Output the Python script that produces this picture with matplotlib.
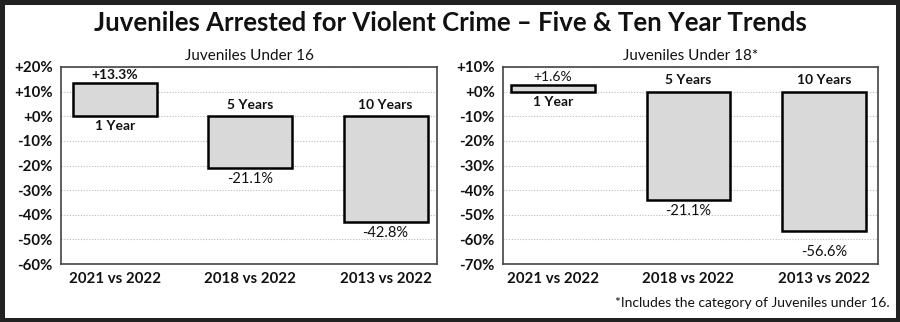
import matplotlib
matplotlib.use("Agg")
import matplotlib.pyplot as plt
from matplotlib.patches import Rectangle

plt.rcParams['font.family'] = ['Lato', 'DejaVu Sans']

# ==== Data ====
categories = ["2021 vs 2022", "2018 vs 2022", "2013 vs 2022"]
periods = ["1 Year", "5 Years", "10 Years"]

under16_values = [13.3, -21.1, -42.8]
under16_labels = ["+13.3%", "-21.1%", "-42.8%"]

under18_values = [2.6, -44.0, -56.6]              # bar heights as drawn in the source
under18_labels = ["+1.6%", "-21.1%", "-56.6%"]   # label text as printed in the source

under16_ticks = [20, 10, 0, -10, -20, -30, -40, -50, -60]
under18_ticks = [10, 0, -10, -20, -30, -40, -50, -60, -70]

TXT = "#111111"
BAR_FILL = "#d9d9d9"

fig = plt.figure(figsize=(9, 3.22), dpi=100)

# outer dark frame
fig.patches.append(Rectangle((0, 0), 1, 1, transform=fig.transFigure, fill=False,
                             edgecolor="#222222", linewidth=6.5, zorder=10))

fig.text(0.5, 0.93, "Juveniles Arrested for Violent Crime \u2013 Five & Ten Year Trends",
         ha="center", va="center", fontsize=18.5, fontweight="bold", color=TXT)


def draw_panel(rect, values, labels, ticks, subtitle, xlim, low_offsets):
    ax = fig.add_axes(rect)
    x = list(range(len(values)))
    ax.bar(x, values, width=0.62, color=BAR_FILL, edgecolor="black", linewidth=1.8, zorder=3)
    ax.set_xlim(*xlim)
    ax.set_ylim(min(ticks), max(ticks))
    ax.set_yticks(ticks)
    ax.set_yticklabels([("+%d%%" % t) if t >= 0 else ("%d%%" % t) for t in ticks])
    ax.set_xticks(x)
    ax.set_xticklabels(categories)
    ax.tick_params(length=0, pad=6, labelsize=10.8, colors=TXT)
    for lab in ax.get_xticklabels() + ax.get_yticklabels():
        lab.set_fontweight("bold")
    ax.grid(axis="y", linestyle=(0, (1, 1.5)), color="#bbbbbb", linewidth=0.8, zorder=0)
    for s in ax.spines.values():
        s.set_color("#444444")
        s.set_linewidth(1.2)
    ax.set_title(subtitle, fontsize=11, color=TXT, pad=5)

    for i, (v, lab) in enumerate(zip(values, labels)):
        if v >= 0:
            ax.annotate(lab, (i, v), xytext=(0, 1.5), textcoords="offset points",
                        ha="center", va="bottom", fontsize=10, color=TXT,
                        fontweight="bold" if v > 5 else "normal")
            ax.annotate(periods[i], (i, 0), xytext=(0, -3), textcoords="offset points",
                        ha="center", va="top", fontsize=10, color=TXT, fontweight="bold")
        else:
            ax.annotate(periods[i], (i, 0), xytext=(0, 4), textcoords="offset points",
                        ha="center", va="bottom", fontsize=10, color=TXT, fontweight="bold")
            ax.annotate(lab, (i, v), xytext=(0, -3 - low_offsets[i]), textcoords="offset points",
                        ha="center", va="top", fontsize=10.5, color=TXT)
    return ax


draw_panel([61 / 900, 58 / 322, 376 / 900, 197 / 322], under16_values, under16_labels,
           under16_ticks, "Juveniles Under 16", (-0.4, 2.38), [0, 0, 0])
draw_panel([503 / 900, 58 / 322, 375 / 900, 197 / 322], under18_values, under18_labels,
           under18_ticks, "Juveniles Under 18*", (-0.37, 2.40), [0, 0, 7])

fig.text(890 / 900, 1 - 303 / 322, "*Includes the category of Juveniles under 16.",
         ha="right", va="center", fontsize=10, color=TXT)

fig.savefig("out.png", dpi=100, facecolor="white")
